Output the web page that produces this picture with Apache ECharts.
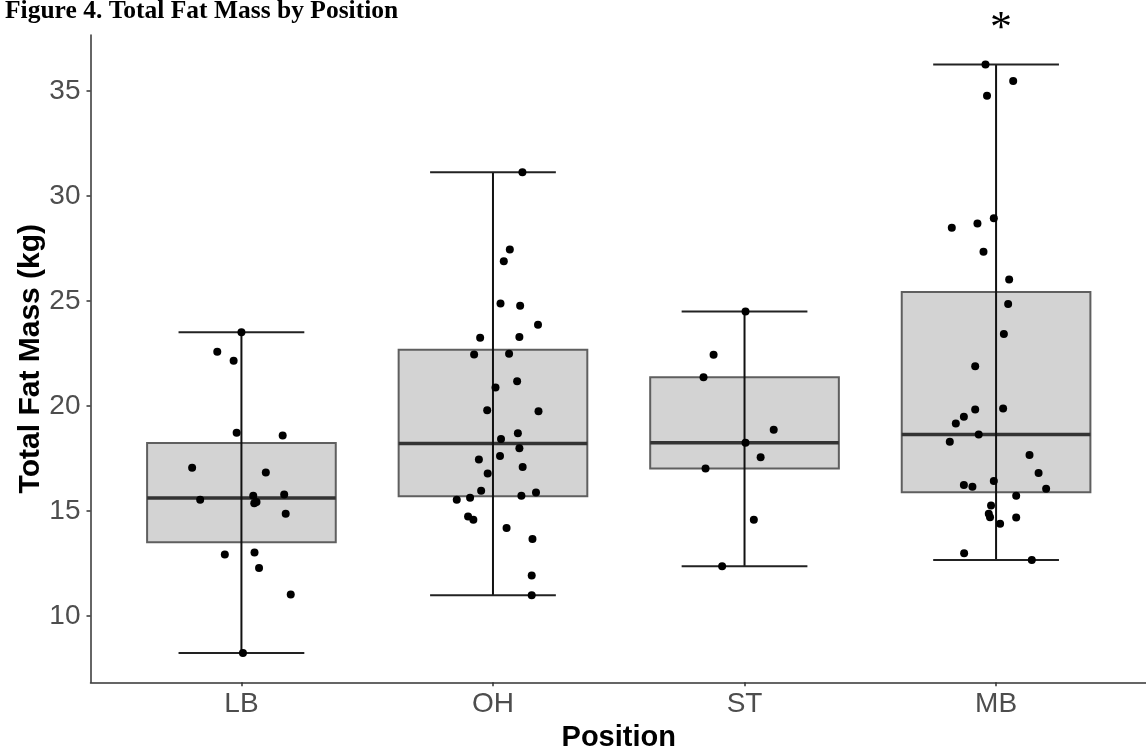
<!DOCTYPE html>
<html>
<head>
<meta charset="utf-8">
<script src="https://cdn.jsdelivr.net/npm/echarts@6/dist/echarts.min.js"></script>
<style>html,body{margin:0;padding:0;background:#fff;}#chart{width:1146px;height:750px;}</style>
</head>
<body>
<div id="chart"></div>
<script>
// ---- data ----
var categories = ['LB', 'OH', 'ST', 'MB'];
var yTicks = [10, 15, 20, 25, 30, 35];
// box stats: [min, Q1, median, Q3, max]
var boxLB = [8.25, 13.52, 15.62, 18.24, 23.52];
var boxOH = [11.0, 15.71, 18.22, 22.68, 31.13];
var boxST = [12.38, 17.03, 18.25, 21.38, 24.51];
var boxMB = [12.67, 15.90, 18.65, 25.43, 36.27];

var lbValues = [23.52, 22.59, 22.16, 18.73, 18.60, 17.06, 16.84, 15.54, 15.73, 15.79, 15.44, 15.37, 14.87, 12.94, 13.03, 12.29, 11.03, 8.24];
var lbJitter = [0.00, -0.096, -0.031, -0.019, 0.164, -0.196, 0.097, -0.164, 0.047, 0.170, 0.060, 0.051, 0.176, -0.066, 0.052, 0.070, 0.196, 0.006];

var ohValues = [31.13, 27.46, 26.90, 24.89, 24.78, 23.87, 23.25, 23.29, 22.46, 22.49, 21.18, 20.89, 19.80, 19.75, 18.71, 18.44, 17.99, 17.63, 17.46, 17.10, 16.79, 15.97, 15.89, 15.73, 15.54, 15.64, 14.75, 14.59, 14.20, 13.67, 11.94, 10.99];
var ohJitter = [0.117, 0.067, 0.043, 0.030, 0.108, 0.179, -0.051, 0.105, -0.075, 0.064, 0.096, 0.010, -0.023, 0.181, 0.099, 0.032, 0.105, 0.028, -0.056, 0.118, -0.021, -0.047, 0.171, 0.113, -0.144, -0.091, -0.099, -0.078, 0.054, 0.157, 0.154, 0.154];

var stValues = [24.51, 22.44, 21.37, 18.87, 18.25, 17.57, 17.03, 14.59, 12.38];
var stJitter = [0.004, -0.123, -0.163, 0.116, 0.004, 0.064, -0.155, 0.037, -0.089];

var mbValues = [36.27, 35.48, 34.78, 28.94, 28.70, 28.49, 27.35, 26.03, 24.86, 23.43, 21.90, 19.84, 19.89, 19.49, 19.17, 18.65, 18.30, 17.67, 16.81, 16.43, 16.25, 16.16, 16.06, 15.73, 15.27, 14.87, 14.71, 14.70, 14.40, 12.99, 12.67];
var mbJitter = [-0.042, 0.068, -0.036, -0.009, -0.074, -0.176, -0.050, 0.052, 0.048, 0.031, -0.083, -0.083, 0.028, -0.128, -0.160, -0.069, -0.184, 0.133, 0.169, -0.009, -0.128, -0.094, 0.199, 0.080, -0.020, -0.029, -0.024, 0.080, 0.016, -0.127, 0.142];

// ---- build ----
var boxes = [boxLB, boxOH, boxST, boxMB];
var boxData = boxes.map(function (b, i) { return [i].concat(b); });
var groups = [[lbValues, lbJitter], [ohValues, ohJitter], [stValues, stJitter], [mbValues, mbJitter]];
var pointData = [];
groups.forEach(function (g, i) {
  g[0].forEach(function (v, k) { pointData.push([i + g[1][k], v]); });
});

var BOX_HALF = 0.375, CAP_HALF = 0.25;
var chart = echarts.init(document.getElementById('chart'), null, { renderer: 'canvas' });
chart.setOption({
  animation: false,
  backgroundColor: '#ffffff',
  title: [
    { text: 'Figure 4. Total Fat Mass by Position', left: 0, top: -7,
      textStyle: { fontFamily: 'Liberation Serif', fontWeight: 'bold', fontSize: 25.5, color: '#000' } },
    { text: '*', left: 985, top: 2,
      textStyle: { fontFamily: 'Liberation Serif', fontWeight: 'normal', fontSize: 44, color: '#000' } }
  ],
  grid: { left: 90.5, right: -1, top: 35, bottom: 67.7, containLabel: false, outerBoundsMode: 'none' },
  xAxis: {
    type: 'value', min: -0.6, max: 3.6,
    name: 'Position', nameLocation: 'middle', nameGap: 41, nameMoveOverlap: false,
    nameTextStyle: { fontFamily: 'Liberation Sans', fontWeight: 'bold', fontSize: 29, color: '#000' },
    axisLine: { onZero: false, lineStyle: { color: '#333', width: 1.5 } },
    axisTick: { show: true, length: 4, customValues: [0, 1, 2, 3], lineStyle: { color: '#333', width: 1.5 } },
    axisLabel: { customValues: [0, 1, 2, 3], margin: 8, fontFamily: 'Liberation Sans', fontSize: 28, color: '#4D4D4D',
      formatter: function (v) { return categories[Math.round(v)]; } },
    splitLine: { show: false }
  },
  yAxis: {
    type: 'value', min: 6.85, max: 37.67,
    name: 'Total Fat Mass (kg)', nameLocation: 'middle', nameGap: 45, nameMoveOverlap: false,
    nameTextStyle: { fontFamily: 'Liberation Sans', fontWeight: 'bold', fontSize: 30, color: '#000' },
    axisLine: { onZero: false, lineStyle: { color: '#333', width: 1.5 } },
    axisTick: { show: true, length: 4, customValues: yTicks, lineStyle: { color: '#333', width: 1.5 } },
    axisLabel: { customValues: yTicks, margin: 10, fontFamily: 'Liberation Sans', fontSize: 28, color: '#4D4D4D' },
    splitLine: { show: false }
  },
  series: [
    {
      type: 'custom',
      data: boxData,
      z: 2,
      renderItem: function (params, api) {
        var x = api.value(0);
        var vmin = api.value(1), q1 = api.value(2), med = api.value(3), q3 = api.value(4), vmax = api.value(5);
        var tl = api.coord([x - BOX_HALF, q3]);
        var br = api.coord([x + BOX_HALF, q1]);
        var ml = api.coord([x - BOX_HALF, med]);
        var mr = api.coord([x + BOX_HALF, med]);
        var top = api.coord([x, vmax]);
        var bot = api.coord([x, vmin]);
        var ctl = api.coord([x - CAP_HALF, vmax]);
        var ctr = api.coord([x + CAP_HALF, vmax]);
        var cbl = api.coord([x - CAP_HALF, vmin]);
        var cbr = api.coord([x + CAP_HALF, vmin]);
        return {
          type: 'group',
          children: [
            { type: 'rect', shape: { x: tl[0], y: tl[1], width: br[0] - tl[0], height: br[1] - tl[1] },
              style: { fill: '#D3D3D3', stroke: '#5f5f5f', lineWidth: 2 } },
            { type: 'line', shape: { x1: ml[0], y1: ml[1], x2: mr[0], y2: mr[1] },
              style: { stroke: '#333', lineWidth: 3.5 } },
            { type: 'line', shape: { x1: top[0], y1: top[1], x2: bot[0], y2: bot[1] },
              style: { stroke: '#111', lineWidth: 2 } },
            { type: 'line', shape: { x1: ctl[0], y1: ctl[1], x2: ctr[0], y2: ctr[1] },
              style: { stroke: '#222', lineWidth: 2 } },
            { type: 'line', shape: { x1: cbl[0], y1: cbl[1], x2: cbr[0], y2: cbr[1] },
              style: { stroke: '#222', lineWidth: 2 } }
          ]
        };
      }
    },
    {
      type: 'scatter',
      data: pointData,
      z: 5,
      symbol: 'circle',
      symbolSize: 8,
      itemStyle: { color: '#000', opacity: 1 }
    }
  ]
});
</script>
</body>
</html>
